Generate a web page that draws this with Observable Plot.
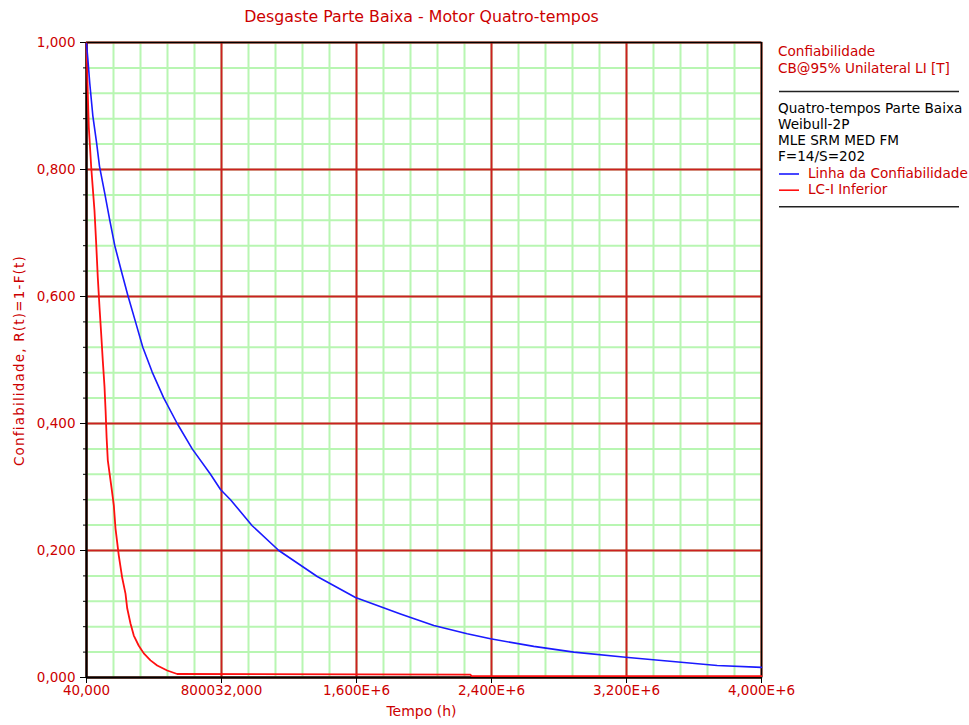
<!DOCTYPE html>
<html><head><meta charset="utf-8">
<script src="https://cdn.jsdelivr.net/npm/d3@7"></script>
<script src="https://cdn.jsdelivr.net/npm/@observablehq/plot@0.6"></script>
<style>body{margin:0;background:#fff} svg{display:block}</style>
</head><body><div id="chart"></div>
<script>
// ---- text ----
const title = "Desgaste Parte Baixa - Motor Quatro-tempos";
const xLabel = "Tempo (h)";
const yLabel = "Confiabilidade, R(t)=1-F(t)";
const legendHeader = ["Confiabilidade", "CB@95% Unilateral LI [T]"];
const legendInfo = ["Quatro-tempos Parte Baixa", "Weibull-2P", "MLE SRM MED FM", "F=14/S=202"];
const seriesNames = ["Linha da Confiabilidade", "LC-I Inferior"];

// ---- ticks ----
const xTickValues = [40000, 832000, 1624000, 2416000, 3208000, 4000000];
const xTickLabels = ["40,000", "800032,000", "1,600E+6", "2,400E+6", "3,200E+6", "4,000E+6"];
const yTickValues = [0, 0.2, 0.4, 0.6, 0.8, 1.0];
const yTickLabels = ["0,000", "0,200", "0,400", "0,600", "0,800", "1,000"];

// ---- series: Linha da Confiabilidade (blue) ----
const blueT = [40000, 47600, 59400, 77000, 98700, 116300, 147400, 176700, 206000, 243600,
  282300, 327500, 370300, 425400, 493500, 572100, 660100, 767500, 826100, 884800,
  1012100, 1168200, 1393500, 1618100, 1882100, 2077500, 2273400, 2410100, 2664100, 2898800,
  3202100, 3446700, 3740000, 4000000];
const blueR = [0.998, 0.975, 0.935, 0.885, 0.843, 0.805, 0.762, 0.720, 0.680, 0.641,
  0.602, 0.560, 0.520, 0.481, 0.440, 0.400, 0.360, 0.320, 0.296, 0.280,
  0.239, 0.200, 0.159, 0.126, 0.100, 0.082, 0.069, 0.061, 0.049, 0.040,
  0.032, 0.026, 0.019, 0.016];

// ---- series: LC-I Inferior (red) ----
const redT = [40000, 42900, 47600, 53500, 67600, 73400, 86900, 96900, 106300, 116300,
  126200, 135600, 145600, 152000, 158000, 165000, 186700, 200200, 210100, 229500, 249400,
  268800, 278800, 298100, 317500, 346800, 376200, 415500, 454800, 513400, 572100,
  2292800, 2298700, 4000000];
const redR = [0.999, 0.966, 0.919, 0.867, 0.804, 0.783, 0.735, 0.683, 0.630, 0.583,
  0.541, 0.499, 0.458, 0.420, 0.378, 0.342, 0.299, 0.271, 0.235, 0.192, 0.157,
  0.132, 0.109, 0.085, 0.066, 0.050, 0.038, 0.027, 0.019, 0.011, 0.0055,
  0.0045, 0.0022, 0.0022];

const blueData = blueT.map((t, i) => ({t, r: blueR[i]}));
const redData = redT.map((t, i) => ({t, r: redR[i]}));

const W = 969, H = 725, mL = 86, mR = 208, mT = 42, mB = 48;
const RED_TXT = "#cc0000", GRID_RED = "#cc2020", GRID_GREEN = "#b8f6b2";
const FONT = "DejaVu Sans";

const xStep = (xTickValues[1] - xTickValues[0]) / 5;
const xMinor = d3.range(xTickValues[0], xTickValues[xTickValues.length - 1] + 1, xStep);
const yMinor = d3.range(0, 1.0001, 0.04);

const chart = Plot.plot({
  width: W, height: H,
  marginLeft: mL, marginRight: mR, marginTop: mT, marginBottom: mB,
  style: {fontFamily: FONT, fontSize: "13.5px", background: "white"},
  x: {domain: [xTickValues[0], xTickValues[xTickValues.length - 1]]},
  y: {domain: [0, 1]},
  marks: [
    Plot.ruleY(yMinor, {stroke: GRID_GREEN, strokeWidth: 2}),
    Plot.ruleX(xMinor, {stroke: GRID_GREEN, strokeWidth: 2}),
    Plot.ruleY(yTickValues, {stroke: GRID_RED, strokeWidth: 2}),
    Plot.ruleX(xTickValues, {stroke: GRID_RED, strokeWidth: 2}),
    Plot.axisY(yMinor, {tickSize: 3, tickFormat: () => "", stroke: "black", label: null}),
    Plot.axisY({ticks: yTickValues, tickFormat: d => yTickLabels[yTickValues.indexOf(d)],
      tickSize: 6, tickPadding: 5, stroke: "black", fill: RED_TXT, label: null, fontSize: 13.5}),
    Plot.axisX({ticks: xTickValues, tickFormat: d => xTickLabels[xTickValues.indexOf(d)],
      tickSize: 6, tickPadding: 2, stroke: "black", fill: RED_TXT, label: null, fontSize: 13.5}),
    Plot.frame({stroke: "black", strokeWidth: 1.5}),
    Plot.ruleX([xTickValues[0]], {stroke: "black", strokeWidth: 2}),
    Plot.ruleY([0], {stroke: "black", strokeWidth: 2}),
    Plot.line(redData, {x: "t", y: "r", stroke: "#ff1010", strokeWidth: 1.8}),
    Plot.line(blueData, {x: "t", y: "r", stroke: "#1a1aff", strokeWidth: 1.6})
  ]
});

const svg = d3.select(chart);
const plotCx = mL + (W - mL - mR) / 2;
const txt = (x, y, s, fill, size, anchor = "start") =>
  svg.append("text").attr("x", x).attr("y", y).attr("fill", fill)
    .attr("font-size", size).attr("font-family", FONT).attr("text-anchor", anchor).text(s);

txt(plotCx - 2, 22, title, RED_TXT, 15.8, "middle");
txt(plotCx - 2, 716, xLabel, RED_TXT, 14, "middle");
svg.append("text").attr("transform", `translate(24,${mT + (H - mT - mB) / 2 + 1}) rotate(-90)`)
  .attr("fill", RED_TXT).attr("font-size", 13.5).attr("font-family", FONT)
  .attr("letter-spacing", 1.2)
  .attr("text-anchor", "middle").text(yLabel);

// legend
const lx = W - mR + 17;
txt(lx, 56, legendHeader[0], RED_TXT, 13.6);
txt(lx, 73, legendHeader[1], RED_TXT, 13.6);
svg.append("line").attr("x1", lx + 1).attr("x2", W - 10).attr("y1", 91.5).attr("y2", 91.5)
  .attr("stroke", "#222").attr("stroke-width", 1.5);
legendInfo.forEach((s, i) => txt(lx, 112.7 + i * 16.2, s, "black", 13.6));
const sColors = ["#1a1aff", "#ff1010"];
seriesNames.forEach((s, i) => {
  const y = 177.5 + i * 16.2;
  svg.append("line").attr("x1", lx + 1).attr("x2", lx + 21).attr("y1", y - 3.5).attr("y2", y - 3.5)
    .attr("stroke", sColors[i]).attr("stroke-width", 1.6);
  txt(lx + 30, y, s, RED_TXT, 13.6);
});
svg.append("line").attr("x1", lx + 1).attr("x2", W - 10).attr("y1", 206.7).attr("y2", 206.7)
  .attr("stroke", "#222").attr("stroke-width", 1.5);

document.getElementById("chart").appendChild(chart);
</script>
</body></html>
